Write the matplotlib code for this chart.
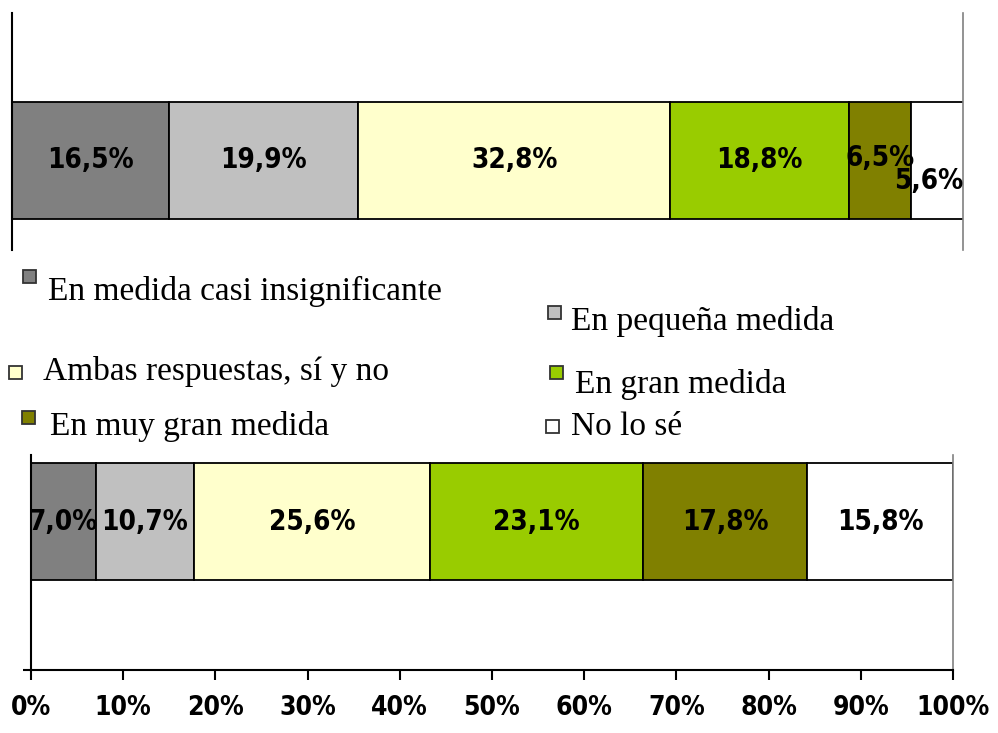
import numpy as np
import matplotlib
matplotlib.use("Agg")
import matplotlib.pyplot as plt
from matplotlib.patches import Rectangle

# ------------------------------------------------------------
# DATA
# ------------------------------------------------------------
categories = [
    "En medida casi insignificante",
    "En pequeña medida",
    "Ambas respuestas, sí y no",
    "En gran medida",
    "En muy gran medida",
    "No lo sé",
]
top_values = [16.5, 19.9, 32.8, 18.8, 6.5, 5.6]
bottom_values = [7.0, 10.7, 25.6, 23.1, 17.8, 15.8]
colors = ["#808080", "#C0C0C0", "#FFFFCC", "#99CC00", "#808000", "#FFFFFF"]
xticks = list(range(0, 101, 10))
xtick_labels = [f"{t}%" for t in xticks]

W, H = 998, 733
fig = plt.figure(figsize=(W / 100, H / 100), dpi=100)
fig.patch.set_facecolor("white")

label_font = dict(family="DejaVu Sans", weight="bold", stretch="condensed", size=20)
tick_font = dict(family="DejaVu Sans", weight="bold", stretch="condensed", size=19)


def fmt(v):
    return f"{v:.1f}".replace(".", ",") + "%"


def draw_bar(ax, values, offsets=None):
    left = 0.0
    for i, (v, c) in enumerate(zip(values, colors)):
        ax.barh(0, v, left=left, height=0.5, color=c, edgecolor="black",
                linewidth=1.3, zorder=2)
        dx, dy = (0, 0)
        if offsets and i in offsets:
            dx, dy = offsets[i]
        ax.annotate(fmt(v), (left + v / 2, 0), xytext=(dx, dy),
                    textcoords="offset points", ha="center", va="center",
                    zorder=3, annotation_clip=False, **label_font)
        left += v
    ax.set_xlim(0, 100)


# ------------------------------------------------------------
# TOP BAR
# ------------------------------------------------------------
ax1 = fig.add_axes([12 / W, 1 - 250 / H, 951 / W, 237 / H])
draw_bar(ax1, top_values, offsets={4: (0, 2), 5: (-6, -15)})
ax1.set_ylim(-0.3825, 0.630)
ax1.set_xticks([])
ax1.set_yticks([])
ax1.spines["top"].set_visible(False)
ax1.spines["bottom"].set_visible(False)
ax1.spines["left"].set_linewidth(1.5)
ax1.spines["right"].set_color("#808080")
ax1.spines["right"].set_linewidth(1.2)

# ------------------------------------------------------------
# BOTTOM BAR
# ------------------------------------------------------------
ax2 = fig.add_axes([31 / W, 1 - 670 / H, 922 / W, 215 / H])
draw_bar(ax2, bottom_values)
ax2.set_ylim(-0.6346, 0.2842)
ax2.set_xticks(xticks)
ax2.set_xticklabels(xtick_labels, **tick_font)
ax2.tick_params(axis="x", direction="out", length=7, width=1.5, pad=11)
ax2.set_yticks([-0.6346])
ax2.set_yticklabels([])
ax2.tick_params(axis="y", direction="out", length=6, width=1.5)
ax2.spines["top"].set_visible(False)
ax2.spines["left"].set_linewidth(1.5)
ax2.spines["bottom"].set_linewidth(1.5)
ax2.spines["right"].set_color("#808080")
ax2.spines["right"].set_linewidth(1.2)

# ------------------------------------------------------------
# LEGEND (free layout, pixel coordinates)
# ------------------------------------------------------------
lax = fig.add_axes([0, 0, 1, 1], zorder=-1)
lax.set_xlim(0, W)
lax.set_ylim(H, 0)
lax.axis("off")

# (marker left, marker top, text x, text baseline)
legend_pos = [
    (23, 270, 48, 300),
    (548, 306, 571, 330),
    (9, 366, 43, 380),
    (550, 366, 575, 393),
    (22, 411, 50, 435),
    (546, 420, 571, 435),
]
for (mx, my, tx, ty), c, name in zip(legend_pos, colors, categories):
    lax.add_patch(Rectangle((mx, my), 13, 13, facecolor=c, edgecolor="#333333",
                            linewidth=1.3))
    lax.text(tx, ty, name, family="Liberation Serif", size=24, va="baseline",
             ha="left")

fig.savefig("out.png", dpi=100)
